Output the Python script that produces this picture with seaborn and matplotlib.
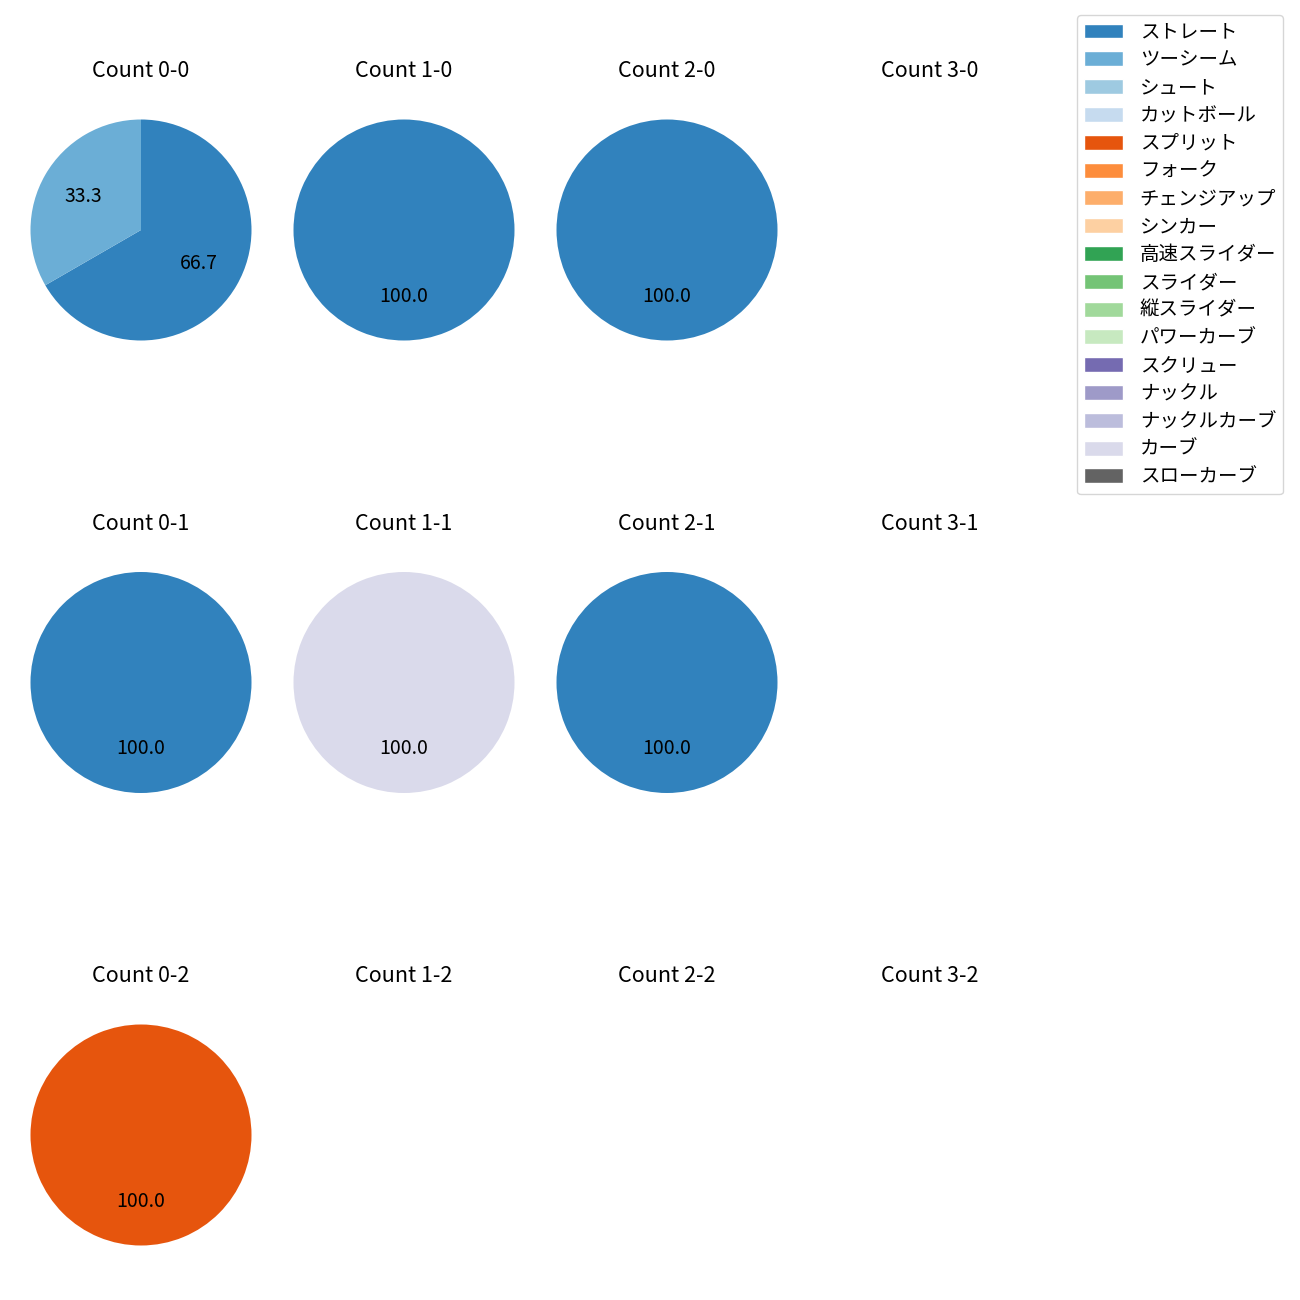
import matplotlib
matplotlib.use("Agg")
import matplotlib.pyplot as plt
import seaborn as sns
from matplotlib.patches import Patch

sns.set_theme(style="white")
plt.rcParams['font.family'] = ['Noto Sans CJK JP', 'DejaVu Sans']
plt.rcParams['text.color'] = 'black'

pitch_types = ["ストレート", "ツーシーム", "シュート", "カットボール", "スプリット", "フォーク",
               "チェンジアップ", "シンカー", "高速スライダー", "スライダー", "縦スライダー",
               "パワーカーブ", "スクリュー", "ナックル", "ナックルカーブ", "カーブ", "スローカーブ"]
palette = sns.color_palette("tab20c", 20)[:17]
color_map = dict(zip(pitch_types, palette))

balls = [0, 1, 2, 3]
strikes = [0, 1, 2]
# pitch counts per ball-strike count
count_data = {
    (0, 0): {"ストレート": 2, "ツーシーム": 1},
    (1, 0): {"ストレート": 1},
    (2, 0): {"ストレート": 1},
    (3, 0): {},
    (0, 1): {"ストレート": 1},
    (1, 1): {"カーブ": 1},
    (2, 1): {"ストレート": 1},
    (3, 1): {},
    (0, 2): {"スプリット": 1},
    (1, 2): {},
    (2, 2): {},
    (3, 2): {},
}

W = H = 1300
fig = plt.figure(figsize=(13, 13), dpi=100)
R = 110.5
S = 2.5 * R
for s in strikes:
    for b in balls:
        cx = 141 + 263 * b
        cy = 230 + 452.5 * s
        ax = fig.add_axes([(cx - S / 2) / W, 1 - (cy + S / 2) / H, S / W, S / H])
        d = count_data[(b, s)]
        if d:
            labels = list(d.keys())
            vals = list(d.values())
            ax.pie(vals, colors=[color_map[l] for l in labels], startangle=90,
                   counterclock=False, autopct="%.1f",
                   wedgeprops={"linewidth": 0},
                   textprops={"fontsize": 14, "color": "black"})
        else:
            ax.set_xlim(-1.25, 1.25)
            ax.set_ylim(-1.25, 1.25)
        ax.set_aspect('equal')
        ax.axis('off')
        ax.set_title(f"Count {b}-{s}", fontsize=15.5, color="black", pad=10.5)

handles = [Patch(facecolor=color_map[p], label=p) for p in pitch_types]
fig.legend(handles=handles, loc="upper right", bbox_to_anchor=(1283 / W, 1 - 15 / H),
           borderaxespad=0, fontsize=14, labelspacing=0.35, handleheight=0.8,
           handlelength=2.0, handletextpad=0.85, borderpad=0.35)
fig.savefig("out.png", dpi=100)
